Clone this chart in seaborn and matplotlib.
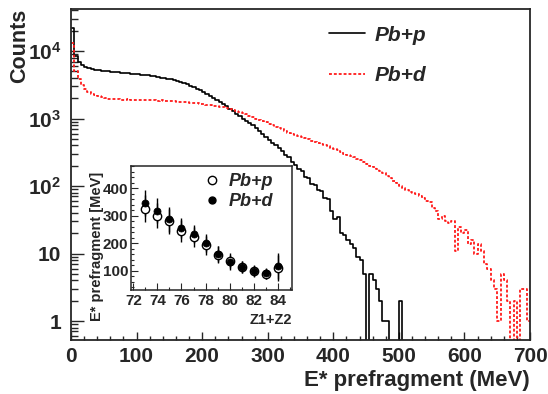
import numpy as np
import pandas as pd
import seaborn as sns
import matplotlib.pyplot as plt
from matplotlib.lines import Line2D
from matplotlib.ticker import FixedLocator, MultipleLocator, LogLocator, NullFormatter, FixedFormatter

# E* prefragment spectra, 5 MeV bins from 0 to 700 MeV
e_lo, e_hi, e_step = 0, 700, 5

pbp_counts = [
    22000, 8500, 7000, 6300, 5900, 5600, 5400, 5300, 5200, 5150,
    5050, 5000, 4950, 4900, 4850, 4800, 4750, 4700, 4650, 4600,
    4550, 4480, 4420, 4350, 4280, 4200, 4130, 4050, 3980, 3920,
    3850, 3750, 3620, 3480, 3340, 3200, 3060, 2920, 2780, 2630,
    2480, 2330, 2180, 2040, 1900, 1780, 1650, 1520, 1400, 1290,
    1180, 1080, 1000, 920, 850, 790, 720, 650, 590, 530,
    480, 440, 400, 370, 330, 290, 265, 230, 205, 180,
    165, 135, 132, 108, 104, 88, 84, 66, 64, 42,
    33, 35, 20, 19, 16, 14, 12, 9, 8, 5,
    0, 5, 4, 3, 2, 1, 1, 0, 0, 0,
    2, 0, 0, 0, 0, 0, 0, 0, 0, 0,
    0, 0, 0, 0, 0, 0, 0, 0, 0, 0,
    0, 0, 0, 0, 0, 0, 0, 0, 0, 0,
    0, 0, 0, 0, 0, 0, 0, 0, 0, 0,
]
pbd_counts = [
    13000, 5000, 3800, 3100, 2750, 2500, 2350, 2230, 2150, 2080,
    2020, 1980, 1950, 1930, 1920, 1910, 1900, 1920, 1900, 1890,
    1880, 1900, 1870, 1880, 1860, 1870, 1850, 1860, 1840, 1820,
    1810, 1800, 1780, 1760, 1750, 1730, 1710, 1690, 1680, 1660,
    1630, 1600, 1580, 1550, 1520, 1490, 1460, 1430, 1390, 1350,
    1300, 1250, 1200, 1150, 1100, 1050, 1000, 960, 920, 880,
    840, 800, 760, 720, 690, 650, 620, 600, 570, 550,
    530, 510, 490, 470, 450, 440, 420, 400, 390, 370,
    350, 340, 320, 300, 290, 280, 265, 250, 240, 225,
    210, 200, 190, 180, 165, 155, 140, 130, 120, 110,
    100, 95, 88, 82, 80, 75, 70, 66, 60, 58,
    48, 42, 32, 36, 30, 28, 30, 11, 25, 20,
    22, 14, 16, 10, 14, 11, 7, 6, 4, 3,
    1, 5, 4, 2, 0, 2, 0, 3, 3, 1,
]

# inset: mean E* vs Z1+Z2
z_sum = [73, 74, 75, 76, 77, 78, 79, 80, 81, 82, 83, 84]
estar_pbp = [325, 300, 279, 245, 222, 192, 158, 136, 113, 98, 88, 110]
estar_pbd = [345, 318, 287, 255, 234, 200, 160, 130, 115, 100, 90, 118]
err_pbp = [50, 45, 45, 40, 35, 35, 30, 28, 22, 20, 19, 47]
err_pbd = [48, 45, 45, 38, 33, 33, 30, 28, 22, 20, 19, 47]

y_ticks = [1, 10, 100, 1000, 10000]
y_ticklabels = ["1", "10", "$10^{2}$", "$10^{3}$", "$10^{4}$"]

sns.set_style("ticks")
plt.rcParams["font.family"] = ["Liberation Sans", "DejaVu Sans"]
plt.rcParams["font.weight"] = "bold"
plt.rcParams["mathtext.fontset"] = "custom"
plt.rcParams["mathtext.rm"] = "Liberation Sans:bold"
plt.rcParams["mathtext.it"] = "Liberation Sans:bold:italic"
plt.rcParams["mathtext.bf"] = "Liberation Sans:bold"

edges = list(np.arange(e_lo, e_hi + e_step, e_step))
centers = np.arange(e_lo, e_hi, e_step) + e_step / 2
df = pd.DataFrame({"E": centers, "Pb+p": pbp_counts, "Pb+d": pbd_counts})

fig = plt.figure(figsize=(5.48, 3.94), dpi=100)
ax = fig.add_axes([0.1296, 0.137, 0.8376, 0.840])
ax.set_yscale("log")

sns.histplot(data=df, x="E", weights="Pb+p", bins=edges, element="step", fill=False,
             color="black", linewidth=1.2, ax=ax)
sns.histplot(data=df, x="E", weights="Pb+d", bins=edges, element="step", fill=False,
             color="#ff1a1a", linewidth=1.3, linestyle=(0, (1.6, 1.1)), ax=ax)

ax.set_xlim(0, 700)
ax.set_ylim(0.523, 41900)
for s in ax.spines.values():
    s.set_linewidth(1.3)
    s.set_visible(True)

ax.xaxis.set_major_locator(MultipleLocator(100))
ax.xaxis.set_minor_locator(MultipleLocator(20))
ax.yaxis.set_major_locator(FixedLocator(y_ticks))
ax.yaxis.set_major_formatter(FixedFormatter(y_ticklabels))
ax.yaxis.set_minor_locator(LogLocator(base=10, subs=np.arange(2, 10), numticks=20))
ax.yaxis.set_minor_formatter(NullFormatter())
ax.tick_params(axis="both", which="both", direction="in", top=False, right=False,
               labelsize=15, width=1.0)
ax.tick_params(axis="x", which="major", length=6, pad=5)
ax.tick_params(axis="x", which="minor", length=3)
ax.tick_params(axis="y", which="major", length=9.5, pad=7)
ax.tick_params(axis="y", which="minor", length=5)

ax.set_xlabel("E* prefragment (MeV)", fontsize=16, fontweight="bold", loc="right")
ax.xaxis.set_label_coords(1.0, -0.09)
ax.set_ylabel("Counts", fontsize=15.5, fontweight="bold", loc="top")
ax.yaxis.set_label_coords(-0.09, 1.0)

handles = [Line2D([], [], color="black", linewidth=1.2),
           Line2D([], [], color="#ff1a1a", linewidth=1.3, linestyle=(0, (1.6, 1.1)))]
fig.legend(handles, ["Pb+p", "Pb+d"], loc="upper left", bbox_to_anchor=(0.600, 0.935),
           bbox_transform=fig.transFigure, frameon=False, handlelength=1.75,
           handletextpad=0.45, labelspacing=1.05, borderpad=0, borderaxespad=0,
           prop={"size": 15, "weight": "bold", "style": "italic"})

# inset
axi = fig.add_axes([0.2391, 0.2640, 0.2938, 0.3147])
axi.errorbar(z_sum, estar_pbp, yerr=err_pbp, fmt="none", ecolor="black", elinewidth=1.0)
axi.errorbar(z_sum, estar_pbd, yerr=err_pbd, fmt="none", ecolor="black", elinewidth=1.0)
sns.scatterplot(x=z_sum, y=estar_pbp, marker="o", s=36, facecolor="white",
                edgecolor="black", linewidth=1.0, ax=axi, zorder=3)
sns.scatterplot(x=z_sum, y=estar_pbd, marker="o", s=26, color="black",
                edgecolor="black", linewidth=0.5, ax=axi, zorder=4)
axi.set_xlim(71.8, 85.2)
axi.set_ylim(30, 480)
for s in axi.spines.values():
    s.set_linewidth(1.1)
    s.set_visible(True)
axi.xaxis.set_major_locator(MultipleLocator(2))
axi.xaxis.set_minor_locator(MultipleLocator(1))
axi.yaxis.set_major_locator(MultipleLocator(100))
axi.yaxis.set_minor_locator(MultipleLocator(20))
axi.tick_params(axis="both", which="both", direction="in", top=False, right=False,
                labelsize=11, width=0.8)
axi.tick_params(axis="x", which="major", length=5, pad=3)
axi.tick_params(axis="y", which="major", length=5, pad=2)
axi.tick_params(axis="both", which="minor", length=2.5)
axi.set_xlabel("Z1+Z2", fontsize=10.5, fontweight="bold", loc="right")
axi.xaxis.set_label_coords(1.0, -0.185)
axi.set_ylabel("E* prefragment [MeV]", fontsize=10.5, fontweight="bold")
axi.yaxis.set_label_coords(-0.17, 0.35)

in_handles = [Line2D([], [], linestyle="none", marker="o", markersize=6,
                     markerfacecolor="white", markeredgecolor="black"),
              Line2D([], [], linestyle="none", marker="o", markersize=5,
                     markerfacecolor="black", markeredgecolor="black")]
axi.legend(in_handles, ["Pb+p", "Pb+d"], loc="upper left", bbox_to_anchor=(0.46, 0.94),
           frameon=False, handlelength=0.8, handletextpad=0.5, labelspacing=0.15,
           borderpad=0, borderaxespad=0,
           prop={"size": 13, "weight": "bold", "style": "italic"})

plt.savefig("out.png", dpi=100)
